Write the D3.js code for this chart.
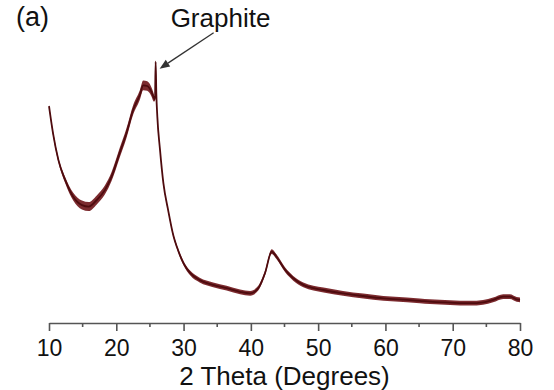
<!DOCTYPE html>
<html>
<head>
<meta charset="utf-8">
<script src="https://cdn.jsdelivr.net/npm/d3@7"></script>
<style>
  html, body { margin: 0; padding: 0; background: #fff; }
  svg { display: block; }
  text { font-family: "Liberation Sans", Arial, sans-serif; fill: #111; }
</style>
</head>
<body>
<svg id="chart" width="554" height="390"></svg>
<script>
// 2θ positions (degrees)
const twoTheta = [10.0, 10.6, 11.4, 12.4, 13.6, 14.9, 15.9, 17.1, 18.3, 19.3, 20.5, 21.5, 22.5, 23.5, 24.0, 24.6, 25.2, 25.6, 25.75, 25.85, 25.95, 26.1, 26.5, 27.0, 27.7, 28.5, 29.0, 30.0, 31.0, 32.4, 34.4, 36.4, 38.4, 39.9, 41.1, 42.1, 43.1, 43.8, 45.1, 46.3, 47.8, 50.8, 53.7, 56.7, 59.7, 63.2, 65.1, 66.6, 69.6, 72.6, 74.5, 76.0, 77.5, 78.5, 79.5, 80.0];
// intensity (arbitrary units)
const intensity = [723, 632, 543, 477, 421, 393, 388, 410, 443, 488, 567, 632, 710, 760, 792, 790, 772, 750, 745, 871, 765, 688, 577, 466, 377, 290, 254, 199, 166, 143, 127, 116, 104, 99, 116, 166, 238, 221, 177, 149, 127, 110, 99, 90, 82, 77, 74, 71, 68, 66, 69, 77, 88, 88, 79, 77];
// half-width of the noise band (same units)
const noise = [5, 7, 8, 10, 13, 15, 15, 15, 15, 15, 16, 16, 16, 16, 16, 16, 15, 12, 3, 3, 3, 4, 4, 4, 4, 5, 6, 7, 8, 8, 8, 8, 8, 8, 8, 8, 8, 8, 8, 8, 8, 8, 8, 8, 8, 8, 8, 8, 8, 8, 8, 8, 8, 8, 8, 8];
const xTicks = [10, 20, 30, 40, 50, 60, 70, 80];
const xMinorTicks = [15, 25, 35, 45, 55, 65, 75];
const peakLabel = "Graphite";
const panelLabel = "(a)";
const xTitle = "2 Theta (Degrees)";

const data = twoTheta.map((t, i) => ({ t, v: intensity[i], n: noise[i] }));

const svg = d3.select("#chart");
const x = d3.scaleLinear().domain([10, 80]).range([49, 520]);
const y = d3.scaleLinear().domain([0, 1000]).range([323, 23]);

const lineColor = "#4e0b0e";

// noise band
const band = d3.area()
  .x(d => x(d.t))
  .y0(d => y(d.v - d.n))
  .y1(d => y(d.v + d.n))
  .curve(d3.curveMonotoneX);
svg.append("path").datum(data)
  .attr("d", band)
  .attr("fill", "#6e1418")
  .attr("opacity", 0.9);

const line = d3.line()
  .x(d => x(d.t))
  .y(d => y(d.v))
  .curve(d3.curveMonotoneX);
svg.append("path").datum(data)
  .attr("d", line)
  .attr("fill", "none")
  .attr("stroke", lineColor)
  .attr("stroke-width", 1.8);

// x axis
const axisColor = "#555";
const gAxis = svg.append("g").attr("transform", `translate(0,${y(0)})`);
gAxis.call(d3.axisBottom(x).tickValues(xTicks).tickSize(8).tickSizeOuter(0).tickPadding(8).tickFormat(d3.format("d")));
gAxis.select(".domain").attr("stroke", axisColor).attr("stroke-width", 1.6);
gAxis.selectAll(".tick line").attr("stroke", axisColor).attr("stroke-width", 1.6);
gAxis.selectAll(".tick text")
  .attr("font-family", "'Liberation Sans', Arial, sans-serif")
  .attr("font-size", 23)
  .attr("fill", "#111")
  .attr("dy", null)
  .attr("y", 33);
gAxis.selectAll(".minor").data(xMinorTicks).enter().append("line")
  .attr("x1", d => x(d)).attr("x2", d => x(d))
  .attr("y1", 0).attr("y2", 4)
  .attr("stroke", axisColor).attr("stroke-width", 1.6);

svg.append("text")
  .attr("x", (x(10) + x(80)) / 2).attr("y", 385)
  .attr("text-anchor", "middle")
  .attr("font-size", 26)
  .text(xTitle);

// panel label
svg.append("text")
  .attr("x", 16).attr("y", 26)
  .attr("font-size", 27)
  .text(panelLabel);

// graphite annotation
const spike = data[intensity.indexOf(d3.max(intensity))];
const sx = x(spike.t), sy = y(spike.v);
svg.append("text")
  .attr("x", sx + 15).attr("y", sy - 35)
  .attr("font-size", 26)
  .text(peakLabel);

const tip = [sx + 4, sy + 7];
const tail = [sx + 58, sy - 29];
const ang = Math.atan2(tip[1] - tail[1], tip[0] - tail[0]);
const headLen = 10, headW = 4;
const base = [tip[0] - headLen * Math.cos(ang), tip[1] - headLen * Math.sin(ang)];
svg.append("line")
  .attr("x1", tail[0]).attr("y1", tail[1])
  .attr("x2", base[0]).attr("y2", base[1])
  .attr("stroke", "#333").attr("stroke-width", 1.3);
svg.append("path")
  .attr("d", `M${tip[0]},${tip[1]} L${base[0] + headW * Math.sin(ang)},${base[1] - headW * Math.cos(ang)} L${base[0] - headW * Math.sin(ang)},${base[1] + headW * Math.cos(ang)} Z`)
  .attr("fill", "#333");
</script>
</body>
</html>
